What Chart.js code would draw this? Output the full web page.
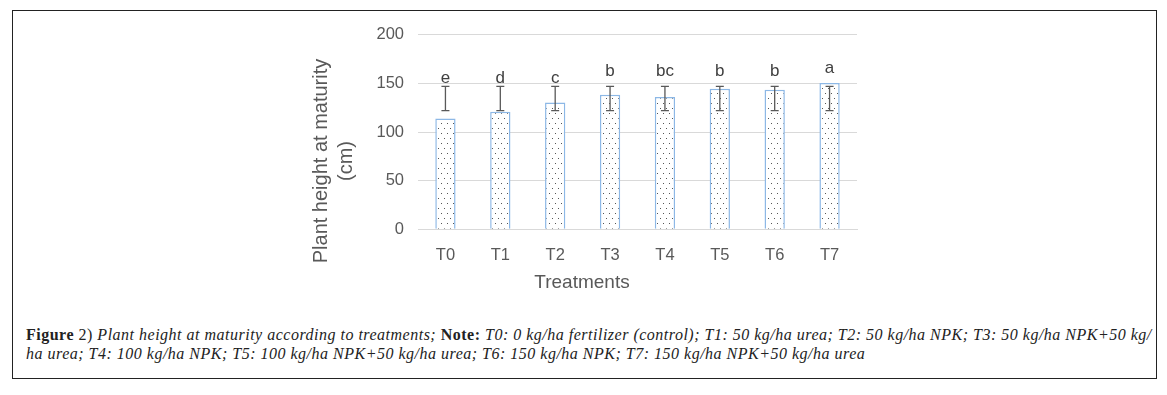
<!DOCTYPE html>
<html>
<head>
<meta charset="utf-8">
<script src="https://cdn.jsdelivr.net/npm/chart.js@4.4.0/dist/chart.umd.min.js"></script>
<style>
  body{margin:0;background:#fff;width:1167px;height:395px;position:relative;overflow:hidden;}
  #frame{position:absolute;left:12px;top:10px;width:1145px;height:369px;border:1.5px solid #222;box-sizing:border-box;}
  #wrap{position:absolute;left:290px;top:11px;width:590px;height:289px;}
  #caption{position:absolute;left:26px;top:325px;width:1140px;white-space:nowrap;font-family:"Liberation Serif","DejaVu Serif",serif;font-size:16px;letter-spacing:0.5px;line-height:19px;color:#222;}
  #caption i{font-style:italic;}
</style>
</head>
<body>
<div id="frame"></div>
<div id="wrap"><canvas id="chart"></canvas></div>
<div id="caption"><b>Figure</b> 2) <i>Plant height at maturity according to treatments;</i> <b>Note:</b> <i>T0: 0 kg/ha fertilizer (control); T1: 50 kg/ha urea; T2: 50 kg/ha NPK; T3: 50 kg/ha NPK+50 kg/</i><br><i>ha urea; T4: 100 kg/ha NPK; T5: 100 kg/ha NPK+50 kg/ha urea; T6: 150 kg/ha NPK; T7: 150 kg/ha NPK+50 kg/ha urea</i></div>
<script>
// data
const treatments = ['T0','T1','T2','T3','T4','T5','T6','T7'];
const heights = [114, 121, 130.5, 138.5, 136, 144.5, 143.5, 150.5];
const errLow = [122, 122, 122, 122, 122, 122, 122, 122];
const errHigh = [147, 147, 147, 147, 147, 147, 147, 147];
const letters = ['e','d','c','b','bc','b','b','a'];
const letterPos = [150, 150, 150, 158, 158, 158, 158, 160.5];
const yTicks = [0, 50, 100, 150, 200];

const grey = '#595959';
const font = '"Liberation Sans", Arial, sans-serif';

// dotted fill like the excel pattern
function dotPattern(){
  const c = document.createElement('canvas');
  c.width = 6; c.height = 10;
  const g = c.getContext('2d');
  g.fillStyle = '#fff'; g.fillRect(0,0,6,10);
  g.fillStyle = '#555';
  g.fillRect(1,2,1,1);
  g.fillRect(4,7,1,1);
  return g.createPattern(c, 'repeat');
}

const extras = {
  id: 'extras',
  afterDatasetsDraw(chart){
    const {ctx, scales:{x, y}} = chart;
    ctx.save();
    // error bars
    ctx.strokeStyle = grey; ctx.lineWidth = 1.3;
    treatments.forEach((t, i) => {
      const cx = x.getPixelForValue(i);
      const y1 = y.getPixelForValue(errLow[i]), y2 = y.getPixelForValue(errHigh[i]);
      ctx.beginPath();
      ctx.moveTo(cx, y1); ctx.lineTo(cx, y2);
      ctx.moveTo(cx-4, y1); ctx.lineTo(cx+4, y1);
      ctx.moveTo(cx-4, y2); ctx.lineTo(cx+4, y2);
      ctx.stroke();
    });
    // letters
    ctx.fillStyle = '#404040';
    ctx.font = '17px ' + font;
    ctx.textAlign = 'center'; ctx.textBaseline = 'alphabetic';
    treatments.forEach((t, i) => {
      ctx.fillText(letters[i], x.getPixelForValue(i), y.getPixelForValue(letterPos[i]));
    });
    // axis titles, centred on the chart box like excel does
    ctx.fillStyle = grey;
    ctx.textBaseline = 'middle';
    ctx.font = '19px ' + font;
    ctx.fillText('Treatments', chart.width/2 - 3, 272);
    ctx.font = '20px ' + font;
    ctx.translate(31, 150);
    ctx.rotate(-Math.PI/2);
    ctx.fillText('Plant height at maturity', 0, 0);
    ctx.fillText('(cm)', 0, 25);
    ctx.restore();
  }
};

new Chart(document.getElementById('chart'), {
  type: 'bar',
  data: {
    labels: treatments,
    datasets: [{
      data: heights,
      backgroundColor: dotPattern(),
      borderColor: '#8db8e6',
      borderWidth: 1.5,
      barPercentage: 0.66,
      categoryPercentage: 0.56
    }]
  },
  options: {
    responsive: true,
    maintainAspectRatio: false,
    animation: false,
    layout: { padding: { left: 70, right: 23, top: 5, bottom: 27 } },
    plugins: { legend: { display: false }, tooltip: { enabled: false } },
    scales: {
      x: {
        grid: { display: false },
        border: { color: '#d9d9d9', width: 1 },
        ticks: { color: grey, font: { family: font, size: 16.5 }, padding: 8 }
      },
      y: {
        min: 0, max: 200,
        afterBuildTicks: s => { s.ticks = yTicks.map(v => ({ value: v })); },
        afterFit: s => { s.width = 58; },
        grid: { color: '#d9d9d9', drawTicks: false },
        border: { display: false },
        ticks: { color: grey, font: { family: font, size: 16.5 }, padding: 14 }
      }
    }
  },
  plugins: [extras]
});
</script>
</body>
</html>
